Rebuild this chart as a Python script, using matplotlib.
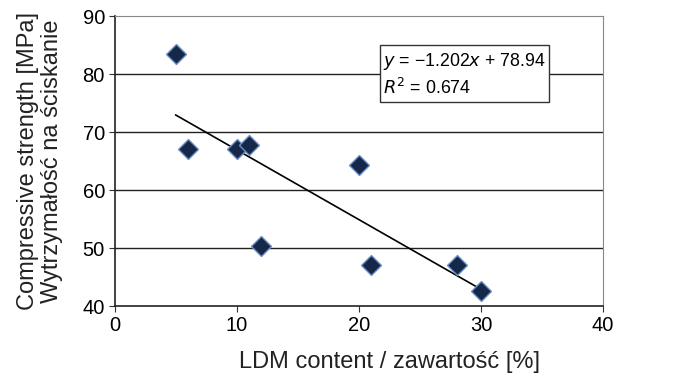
import numpy as np
import matplotlib
matplotlib.use("Agg")
import matplotlib.pyplot as plt

plt.rcParams['font.family'] = ['Liberation Sans', 'DejaVu Sans']

# LDM content [%] vs compressive strength [MPa]
ldm_content = [5, 6, 10, 11, 12, 20, 21, 28, 30]
strength = [83.4, 67.0, 67.1, 67.7, 50.3, 64.3, 47.0, 47.0, 42.6]

# linear fit as given on the chart
slope, intercept = -1.202, 78.94
r_squared = 0.674

x_ticks = [0, 10, 20, 30, 40]
y_ticks = [40, 50, 60, 70, 80, 90]

fig = plt.figure(figsize=(6.81, 3.78), dpi=100)
ax = fig.add_axes([114.7 / 681, 1 - 306 / 378, (603 - 114.7) / 681, (306 - 16) / 378])

for y in y_ticks[1:-1]:
    ax.axhline(y, color='#222222', lw=1.0, zorder=1)

x_fit = np.array([min(ldm_content), max(ldm_content)])
ax.plot(x_fit, slope * x_fit + intercept, color='black', lw=1.2, zorder=2)

ax.plot(ldm_content, strength, linestyle='none', marker='D', markersize=10,
        markerfacecolor='#16284a', markeredgecolor='#6d8fc0', markeredgewidth=1.0, zorder=3)

ax.set_xlim(0, 40)
ax.set_ylim(40, 90)
ax.set_xticks(x_ticks)
ax.set_yticks(y_ticks)
ax.tick_params(labelsize=14.5, length=4, direction='out', color='#333333', pad=3)

for side in ['top', 'right']:
    ax.spines[side].set_color('#888888')
for side in ['left', 'bottom']:
    ax.spines[side].set_color('#222222')
    ax.spines[side].set_linewidth(1.2)

ax.set_xlabel('LDM content / zawartość [%]', fontsize=17, color='#222222')
ax.xaxis.set_label_coords(0.562, -0.155)
ax.set_ylabel('Compressive strength [MPa]\nWytrzymałość na ściskanie', fontsize=17,
              linespacing=1.15, color='#222222')
ax.yaxis.set_label_coords(-0.105, 0.5)

eq_text = '$y$ = \u22121.202$x$ + 78.94\n$R^2$ = 0.674'
ax.text(22.0, 84.0, eq_text, fontsize=12.8, va='top', ha='left', linespacing=1.4,
        bbox=dict(boxstyle='square,pad=0.2', facecolor='white', edgecolor='#333333', lw=1.0),
        zorder=4)

fig.savefig('out.png', dpi=100)
